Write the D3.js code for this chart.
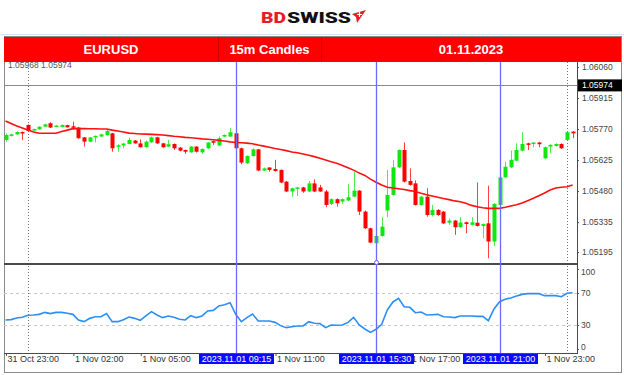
<!DOCTYPE html>
<html><head><meta charset="utf-8">
<script src="https://cdn.jsdelivr.net/npm/d3@7"></script>
<style>html,body{margin:0;padding:0;background:#fff;overflow:hidden}</style>
</head><body>
<svg id="c" width="624" height="375"></svg>
<script>
// ---------- DATA ----------
const titles = ["EURUSD", "15m Candles", "01.11.2023"];
const headerText = "1.05968 1.05974";
const firstBar = "2023.10.31 23:00";
const opens = [1.05719,1.05738,1.05745,1.05756,1.05789,1.05763,1.05769,1.05781,1.05797,1.05781,1.05780,1.05788,1.05783,1.05777,1.05731,1.05711,1.05733,1.05735,1.05741,1.05750,1.05689,1.05693,1.05700,1.05716,1.05703,1.05685,1.05708,1.05731,1.05703,1.05688,1.05700,1.05683,1.05672,1.05661,1.05688,1.05661,1.05680,1.05713,1.05693,1.05735,1.05735,1.05750,1.05680,1.05610,1.05644,1.05675,1.05576,1.05590,1.05583,1.05579,1.05524,1.05478,1.05491,1.05497,1.05478,1.05516,1.05497,1.05478,1.05420,1.05442,1.05431,1.05436,1.05454,1.05482,1.05384,1.05306,1.05236,1.05270,1.05389,1.05462,1.05591,1.05672,1.05527,1.05516,1.05415,1.05454,1.05368,1.05392,1.05384,1.05332,1.05342,1.05311,1.05334,1.05322,1.05332,1.05317,1.05329,1.05244,1.05415,1.05544,1.05591,1.05622,1.05669,1.05703,1.05700,1.05707,1.05633,1.05688,1.05691,1.05700,1.05719,1.05758];
const highs = [1.05750,1.05748,1.05760,1.05758,1.05792,1.05772,1.05783,1.05795,1.05802,1.05788,1.05791,1.05790,1.05805,1.05780,1.05733,1.05733,1.05740,1.05748,1.05769,1.05752,1.05699,1.05705,1.05730,1.05719,1.05722,1.05716,1.05735,1.05734,1.05705,1.05719,1.05703,1.05686,1.05674,1.05691,1.05690,1.05679,1.05709,1.05716,1.05735,1.05745,1.05774,1.05755,1.05683,1.05647,1.05680,1.05677,1.05590,1.05592,1.05626,1.05581,1.05527,1.05496,1.05500,1.05500,1.05527,1.05535,1.05509,1.05485,1.05446,1.05446,1.05445,1.05513,1.05571,1.05485,1.05389,1.05309,1.05273,1.05358,1.05579,1.05626,1.05675,1.05707,1.05586,1.05530,1.05457,1.05493,1.05415,1.05395,1.05387,1.05353,1.05345,1.05358,1.05337,1.05358,1.05520,1.05329,1.05505,1.05424,1.05547,1.05618,1.05669,1.05703,1.05755,1.05706,1.05709,1.05710,1.05688,1.05699,1.05703,1.05703,1.05758,1.05760];
const lows = [1.05711,1.05735,1.05742,1.05719,1.05758,1.05761,1.05767,1.05780,1.05775,1.05780,1.05778,1.05777,1.05766,1.05725,1.05688,1.05708,1.05707,1.05733,1.05739,1.05664,1.05664,1.05680,1.05698,1.05702,1.05683,1.05683,1.05706,1.05700,1.05683,1.05686,1.05672,1.05666,1.05654,1.05659,1.05660,1.05654,1.05677,1.05696,1.05690,1.05733,1.05733,1.05677,1.05605,1.05607,1.05641,1.05573,1.05574,1.05571,1.05571,1.05517,1.05475,1.05454,1.05457,1.05472,1.05475,1.05475,1.05476,1.05404,1.05415,1.05407,1.05420,1.05433,1.05451,1.05368,1.05303,1.05236,1.05233,1.05267,1.05358,1.05459,1.05588,1.05520,1.05505,1.05412,1.05412,1.05360,1.05361,1.05364,1.05326,1.05322,1.05275,1.05308,1.05283,1.05319,1.05314,1.05259,1.05166,1.05223,1.05412,1.05541,1.05588,1.05619,1.05666,1.05672,1.05685,1.05685,1.05630,1.05657,1.05688,1.05677,1.05716,1.05727];
const closes = [1.05742,1.05745,1.05756,1.05751,1.05761,1.05770,1.05781,1.05792,1.05777,1.05786,1.05789,1.05778,1.05780,1.05727,1.05711,1.05731,1.05738,1.05745,1.05761,1.05680,1.05694,1.05702,1.05719,1.05703,1.05685,1.05711,1.05731,1.05703,1.05685,1.05699,1.05680,1.05669,1.05664,1.05688,1.05664,1.05677,1.05707,1.05707,1.05727,1.05742,1.05755,1.05680,1.05613,1.05644,1.05675,1.05576,1.05586,1.05579,1.05574,1.05520,1.05478,1.05493,1.05497,1.05478,1.05516,1.05478,1.05478,1.05415,1.05442,1.05423,1.05442,1.05451,1.05482,1.05384,1.05306,1.05239,1.05270,1.05314,1.05462,1.05591,1.05672,1.05524,1.05509,1.05415,1.05454,1.05368,1.05392,1.05368,1.05329,1.05342,1.05311,1.05333,1.05326,1.05334,1.05317,1.05326,1.05244,1.05420,1.05544,1.05594,1.05626,1.05672,1.05700,1.05696,1.05707,1.05699,1.05685,1.05696,1.05700,1.05680,1.05755,1.05750];
const maValues = [1.05808,1.05796,1.05784,1.05775,1.05765,1.05756,1.05750,1.05750,1.05750,1.05750,1.05758,1.05765,1.05772,1.05772,1.05772,1.05771,1.05771,1.05770,1.05770,1.05765,1.05761,1.05756,1.05751,1.05749,1.05747,1.05746,1.05745,1.05744,1.05742,1.05739,1.05736,1.05734,1.05731,1.05729,1.05727,1.05724,1.05722,1.05720,1.05717,1.05714,1.05710,1.05707,1.05706,1.05704,1.05701,1.05695,1.05690,1.05685,1.05679,1.05674,1.05669,1.05663,1.05659,1.05653,1.05647,1.05641,1.05633,1.05625,1.05617,1.05610,1.05600,1.05589,1.05578,1.05564,1.05553,1.05536,1.05521,1.05508,1.05498,1.05494,1.05491,1.05487,1.05482,1.05478,1.05470,1.05463,1.05457,1.05451,1.05445,1.05440,1.05434,1.05430,1.05423,1.05413,1.05407,1.05402,1.05399,1.05399,1.05399,1.05404,1.05410,1.05416,1.05424,1.05435,1.05446,1.05458,1.05471,1.05485,1.05494,1.05498,1.05500,1.05508];
const rsiValues = [36.3,36.7,38.8,39.6,42.1,42.5,43.3,45.8,44.2,45.8,45.8,44.6,43.3,36.3,34.2,38.3,40.4,40.4,44.2,34.2,34.2,36.7,40.0,38.3,35.8,41.3,46.7,42.5,39.2,41.3,39.6,37.1,36.3,41.7,39.2,41.3,47.5,48.3,53.8,55.4,57.9,43.3,34.2,39.2,43.8,35.0,35.0,35.0,33.3,29.2,26.7,27.9,28.8,28.8,34.2,32.1,31.7,26.7,30.0,29.6,30.0,33.3,39.6,30.0,25.0,20.8,24.6,30.8,48.8,58.8,63.3,52.9,52.1,45.4,46.3,42.5,42.9,43.3,40.4,40.0,39.2,41.3,41.3,41.3,40.8,40.8,35.4,50.0,59.2,62.1,63.8,66.3,68.3,69.2,69.2,69.2,66.7,66.7,66.7,65.4,69.6,70.4];
const priceTicks = [1.06060, 1.05915, 1.05770, 1.05625, 1.05480, 1.05335, 1.05195];
const currentPrice = 1.05974;
const rsiTicks = [100, 70, 30, 0];
const rsiLevels = [70, 30];
const timeTicks = ["2023.10.31 23:00","2023.11.01 02:00","2023.11.01 05:00","2023.11.01 08:00","2023.11.01 11:00","2023.11.01 14:00","2023.11.01 17:00","2023.11.01 20:00","2023.11.01 23:00"];
const markerTimes = ["2023.11.01 09:15","2023.11.01 15:30","2023.11.01 21:00"];
const daySeparators = ["2023.11.01 00:00","2023.11.02 00:00"];

// ---------- SETUP ----------
const svg = d3.select("#c");
const parse = d3.timeParse("%Y.%m.%d %H:%M");
const start = parse(firstBar);
const times = opens.map((_, k) => d3.timeMinute.offset(start, 15 * k));
const fmtTick = d3.timeFormat("%-d %b %H:%M");
const fmtMarker = d3.timeFormat("%Y.%m.%d %H:%M");

const L = 4, R = 577, PT = 62, PB = 264, RB = 353;
const x = d3.scaleTime().domain([times[0], times[times.length - 1]]).range([5.5, 572.6]);
const y = d3.scaleLinear().domain([1.05190, 1.06060]).range([253.1, 67]);
const yR = d3.scaleLinear().domain([0, 100]).range([349, 269]);
const FONT = "'Liberation Sans', Arial, sans-serif";
const markers = markerTimes.map(parse);
const BOXW = 75;

svg.append("rect").attr("width", 624).attr("height", 375).attr("fill", "#fff");

// frame
svg.append("line").attr("x1", 0).attr("x2", 624).attr("y1", 34.5).attr("y2", 34.5).attr("stroke", "#d6e6ee").attr("stroke-width", 1);
svg.append("rect").attr("x", L + 0.5).attr("y", 36.5).attr("width", 617).attr("height", 336).attr("fill", "none").attr("stroke", "#8a8a8a").attr("stroke-width", 1);

// top-left text
svg.append("text").attr("x", 8).attr("y", 67.5).attr("font-family", FONT).attr("font-size", 8.5)
  .attr("fill", "#555").text(headerText);

// RSI level grid
svg.append("g").selectAll("line").data(rsiLevels).join("line")
  .attr("x1", L).attr("x2", R).attr("y1", d => Math.round(yR(d)) + 0.5).attr("y2", d => Math.round(yR(d)) + 0.5)
  .attr("stroke", "#c8c8c8").attr("stroke-dasharray", "3,3");

// day separators (dotted)
svg.append("g").selectAll("line").data(daySeparators.map(parse)).join("line")
  .attr("x1", d => Math.round(x(d)) + 0.5).attr("x2", d => Math.round(x(d)) + 0.5)
  .attr("y1", PT).attr("y2", RB)
  .attr("stroke", "#777").attr("stroke-dasharray", "1,2");

// current price line
svg.append("line").attr("x1", L).attr("x2", R).attr("y1", Math.round(y(currentPrice)) + 0.5).attr("y2", Math.round(y(currentPrice)) + 0.5)
  .attr("stroke", "#8a8a8a").attr("stroke-width", 1.2);

// candles
const GREEN = "#11e611", RED = "#ff0000";
const cg = svg.append("g");
times.forEach((t, k) => {
  const o = opens[k], c = closes[k], h = highs[k], l = lows[k];
  const col = c >= o ? GREEN : RED;
  const cx = Math.round(x(t));
  cg.append("line").attr("x1", cx + 0.5).attr("x2", cx + 0.5).attr("y1", y(h)).attr("y2", y(l))
    .attr("stroke", col).attr("stroke-width", 1).attr("opacity", 0.75);
  const top = y(Math.max(o, c)), bot = y(Math.min(o, c));
  cg.append("rect").attr("x", cx - 1.5).attr("y", top).attr("width", 4).attr("height", Math.max(1.5, bot - top))
    .attr("fill", col);
});

// moving average
svg.append("path").datum(maValues)
  .attr("d", d3.line().x((d, k) => x(times[k])).y(d => y(d)))
  .attr("fill", "none").attr("stroke", "#ff1010").attr("stroke-width", 1.6);

// RSI line
svg.append("path").datum(rsiValues)
  .attr("d", d3.line().x((d, k) => x(times[k])).y(d => yR(d)))
  .attr("fill", "none").attr("stroke", "#2b8ff5").attr("stroke-width", 1.6);

// separator between panels
svg.append("line").attr("x1", L).attr("x2", R).attr("y1", PB).attr("y2", PB).attr("stroke", "#4a4a4a").attr("stroke-width", 2);

// marker (blue) vertical lines
svg.append("g").selectAll("line").data(markers).join("line")
  .attr("x1", d => Math.round(x(d)) + 0.5).attr("x2", d => Math.round(x(d)) + 0.5)
  .attr("y1", PT).attr("y2", RB)
  .attr("stroke", "#6a6aff").attr("stroke-width", 1.3);
svg.append("circle").attr("cx", Math.round(x(markers[1])) + 0.5).attr("cy", PB - 1.5).attr("r", 2)
  .attr("fill", "#fff").attr("stroke", "#6a6aff").attr("stroke-width", 1);

// price axis
const ay = svg.append("g").attr("transform", `translate(${R},0)`)
  .call(d3.axisRight(y).tickValues(priceTicks).tickFormat(d3.format(".5f")).tickSize(2).tickPadding(3));
ay.select(".domain").remove();
ay.selectAll("line").attr("stroke", "#555");
ay.selectAll("text").attr("font-family", FONT).attr("font-size", 8.5).attr("fill", "#444");
svg.append("line").attr("x1", R + 0.5).attr("x2", R + 0.5).attr("y1", PT).attr("y2", RB).attr("stroke", "#4a4a4a").attr("stroke-width", 1);

// current price tag
const cy = y(currentPrice);
svg.append("rect").attr("x", R + 1).attr("y", cy - 6).attr("width", 44).attr("height", 12).attr("fill", "#000");
svg.append("text").attr("x", R + 5).attr("y", cy).attr("dy", "0.35em").attr("font-family", FONT).attr("font-size", 8.5)
  .attr("fill", "#fff").text(d3.format(".5f")(currentPrice));

// RSI axis
const ar = svg.append("g").attr("transform", `translate(${R},0)`)
  .call(d3.axisRight(yR).tickValues(rsiTicks).tickSize(2).tickPadding(2));
ar.select(".domain").remove();
ar.selectAll("line").attr("stroke", "#555");
ar.selectAll("text").attr("font-family", FONT).attr("font-size", 8.5).attr("fill", "#444")
  .attr("dy", (d) => d === 100 ? "0.7em" : (d === 0 ? "0" : "0.32em"));

// time axis: labels that sit under a marker tag are hidden (as in the reference)
const hiddenUnderTag = d => markers.some(m => {
  const s = x(d) + 1.5, bx = x(m);
  return s >= bx - BOXW / 2 - 1 && s < bx + BOXW / 2 - 6;
});
const ax = svg.append("g").attr("transform", `translate(0,${RB})`)
  .call(d3.axisBottom(x).tickValues(timeTicks.map(parse))
    .tickFormat(d => hiddenUnderTag(d) ? "" : fmtTick(d)).tickSize(3).tickPadding(2));
ax.select(".domain").remove();
ax.selectAll("line").attr("stroke", "#555").attr("transform", "translate(0.5,0)");
ax.selectAll("text").attr("font-family", FONT).attr("font-size", 9).attr("fill", "#333")
  .attr("text-anchor", "start").attr("x", 1.5).attr("y", 1).attr("dy", "0.9em");
svg.append("line").attr("x1", L).attr("x2", R + 1).attr("y1", RB + 0.5).attr("y2", RB + 0.5).attr("stroke", "#4a4a4a");

// marker tags on time axis
const mg = svg.append("g").selectAll("g").data(markers).join("g")
  .attr("transform", d => `translate(${Math.round(x(d)) + 0.5},${RB + 1})`);
mg.append("rect").attr("x", -BOXW / 2).attr("y", 0).attr("width", BOXW).attr("height", 10).attr("fill", "#0a0aff");
mg.append("text").attr("x", 0).attr("y", 5).attr("dy", "0.35em").attr("text-anchor", "middle")
  .attr("font-family", FONT).attr("font-size", 9).attr("fill", "#fff").text(d => fmtMarker(d));

// title bar
svg.append("rect").attr("x", L).attr("y", 37).attr("width", 617).attr("height", 25).attr("fill", "#ff0000");
const cells = [[L, 218], [218, 321], [321, 621]];
svg.append("g").selectAll("line").data([218, 321]).join("line")
  .attr("x1", d => d + 0.5).attr("x2", d => d + 0.5).attr("y1", 37).attr("y2", 62)
  .attr("stroke", "#d40000").attr("stroke-width", 1);
svg.append("g").selectAll("text").data(titles).join("text")
  .attr("x", (d, k) => (cells[k][0] + cells[k][1]) / 2)
  .attr("y", 49.5).attr("dy", "0.36em").attr("text-anchor", "middle")
  .attr("font-family", FONT).attr("font-weight", "bold").attr("font-size", 13).attr("fill", "#fff")
  .text(d => d);

// logo
const logo = svg.append("g");
logo.append("text").attr("x", 261).attr("y", 23).attr("font-family", "Roboto, 'Liberation Sans', Arial, sans-serif")
  .attr("font-weight", 900).attr("font-size", 15.5).attr("fill", "#e41e26")
  .attr("textLength", 25).attr("lengthAdjust", "spacingAndGlyphs").text("BD");
logo.append("text").attr("x", 287).attr("y", 23).attr("font-family", "Roboto, 'Liberation Sans', Arial, sans-serif")
  .attr("font-weight", 900).attr("font-size", 15.5).attr("fill", "#111")
  .attr("textLength", 64).attr("lengthAdjust", "spacingAndGlyphs").text("SWISS");
logo.append("path").attr("d", "M352,14 L366,10 L357,23 L356,17 Z").attr("fill", "#e41e26");
logo.append("path").attr("d", "M357,14.5 h5 M359.5,12 v5").attr("stroke", "#fff").attr("stroke-width", 1.2);
</script>
</body></html>
